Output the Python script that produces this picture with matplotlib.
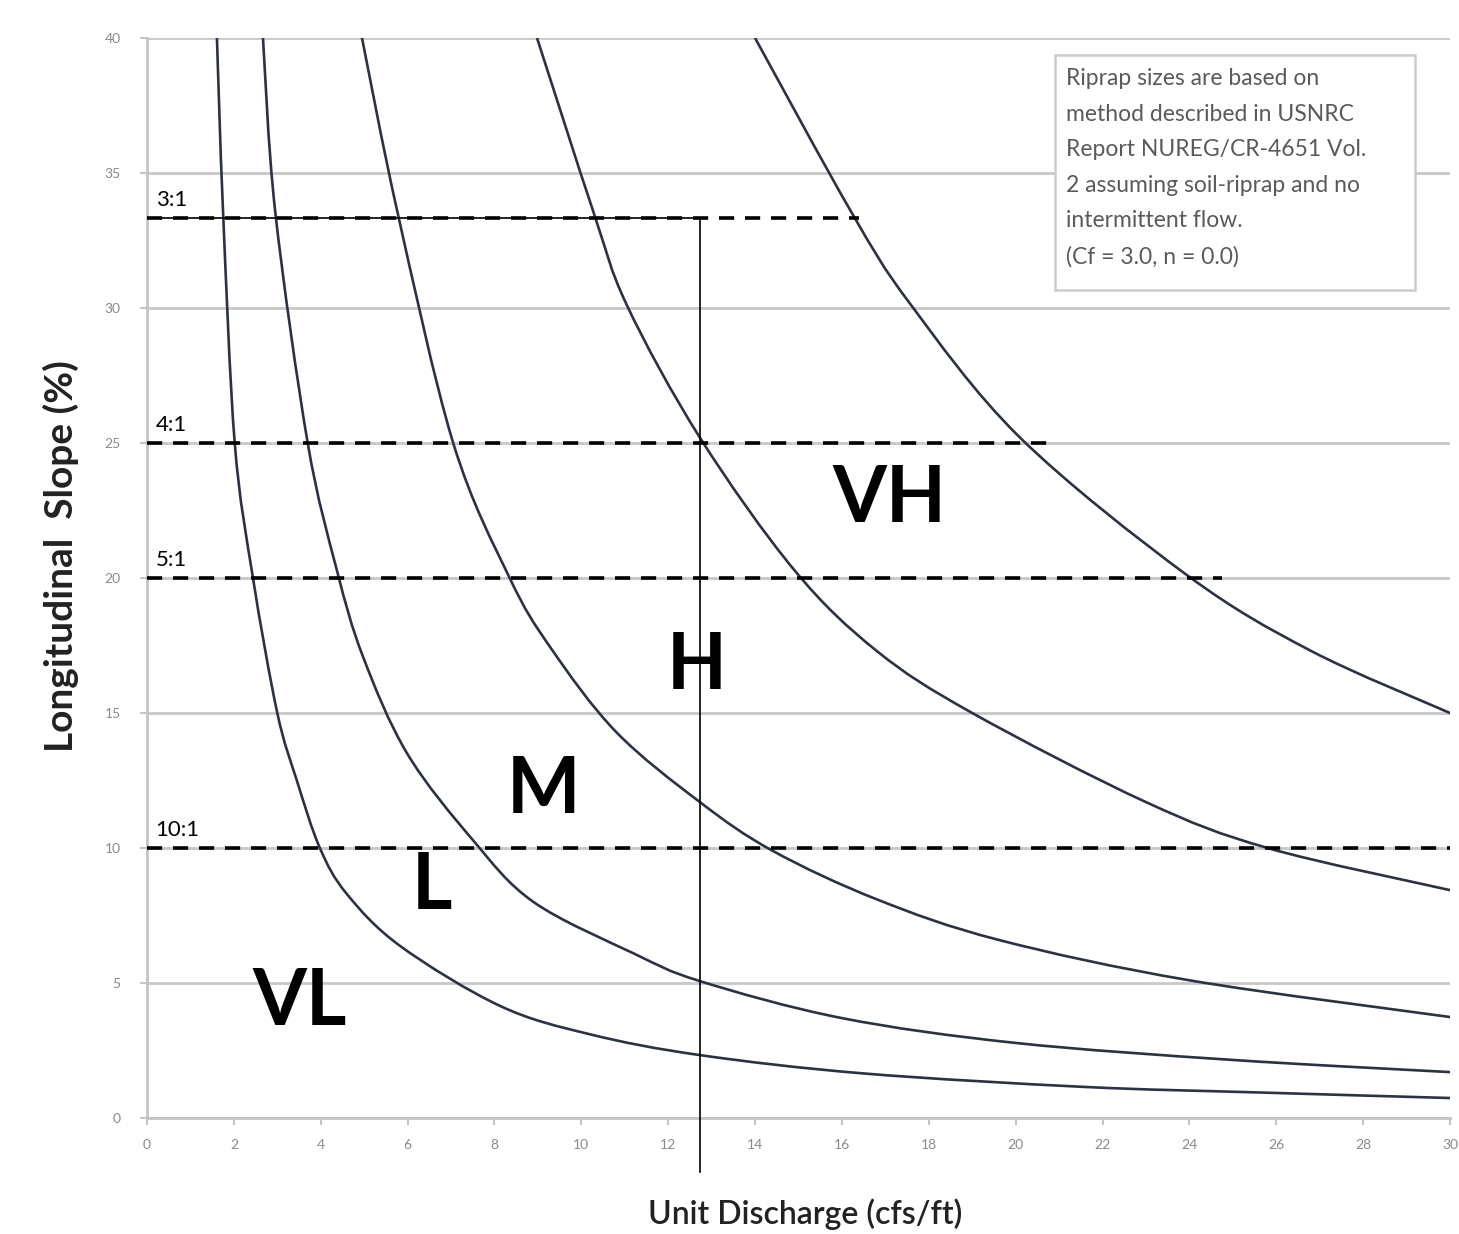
import matplotlib
matplotlib.use("Agg")
import matplotlib.pyplot as plt
from matplotlib.path import Path
from matplotlib.patches import PathPatch, Rectangle

# --------------------------
# Data (unit discharge q in cfs/ft, slope S in %)
# --------------------------
c1_q = [1.61, 1.75, 2.02, 2.44, 3.00, 3.45, 3.98, 4.6, 5.83, 8.13, 10.2, 12.73, 16.5, 21.6, 25.5, 30.0]
c1_s = [40.0, 33.6, 25.0, 20.0, 15.0, 12.5, 10.0, 8.3, 6.37, 4.15, 3.1, 2.33, 1.65, 1.15, 0.95, 0.74]

c2_q = [2.67, 2.95, 3.70, 4.37, 4.97, 5.99, 7.50, 8.90, 11.2, 12.73, 16.0, 20.0, 25.0, 30.0]
c2_s = [40.0, 33.6, 25.0, 20.3, 17.1, 13.5, 10.3, 8.0, 6.1, 5.07, 3.7, 2.78, 2.15, 1.70]

c3_q = [4.95, 5.76, 7.05, 8.35, 9.30, 10.8, 12.73, 14.4, 16.8, 19.6, 24.0, 30.0]
c3_s = [40.0, 33.6, 25.0, 20.0, 17.4, 14.3, 11.7, 9.9, 8.1, 6.6, 5.1, 3.74]

c4_q = [8.98, 10.27, 11.05, 12.73, 14.9, 16.8, 19.0, 23.0, 25.8, 30.0]
c4_s = [40.0, 33.6, 30.1, 25.2, 20.3, 17.3, 15.0, 11.7, 10.0, 8.44]

c5_q = [14.0, 16.2, 17.55, 20.1, 23.95, 26.8, 30.0]
c5_s = [40.0, 33.6, 30.2, 25.2, 20.1, 17.3, 15.0]

curves = [(c1_q, c1_s), (c2_q, c2_s), (c3_q, c3_s), (c4_q, c4_s), (c5_q, c5_s)]

# side-slope reference lines: label, slope (%), end of dashed line (q)
ratio_labels = ["3:1", "4:1", "5:1", "10:1"]
ratio_slopes = [33.33, 25.0, 20.0, 10.0]
ratio_ends = [16.4, 20.9, 24.75, 30.0]

design_q = 12.73  # vertical design line

zone_labels = ["VL", "L", "M", "H", "VH"]
zone_q = [3.52, 6.56, 9.12, 12.66, 17.1]
zone_s = [4.26, 8.56, 12.1, 16.7, 22.9]

note = ("Riprap sizes are based on\n"
        "method described in USNRC\n"
        "Report NUREG/CR-4651 Vol.\n"
        "2 assuming soil-riprap and no\n"
        "intermittent flow.\n"
        "(Cf = 3.0, n = 0.0)")


def smooth_path(xs, ys):
    # Excel-style smoothed line: Catmull-Rom through the points as cubic Beziers
    pts = list(zip(xs, ys))
    n = len(pts)
    verts = [pts[0]]
    codes = [Path.MOVETO]
    for i in range(n - 1):
        p0 = pts[i - 1] if i > 0 else pts[i]
        p1 = pts[i]
        p2 = pts[i + 1]
        p3 = pts[i + 2] if i + 2 < n else pts[i + 1]
        c1 = (p1[0] + (p2[0] - p0[0]) / 6, p1[1] + (p2[1] - p0[1]) / 6)
        c2 = (p2[0] - (p3[0] - p1[0]) / 6, p2[1] - (p3[1] - p1[1]) / 6)
        verts += [c1, c2, p2]
        codes += [Path.CURVE4] * 3
    return Path(verts, codes)


# --------------------------
# Plot
# --------------------------
plt.rcParams['font.family'] = ['Lato', 'DejaVu Sans']

fig = plt.figure(figsize=(14.59, 12.34), dpi=100)
ax = fig.add_axes([147 / 1459, 1 - 1118 / 1234, (1450 - 147) / 1459, (1118 - 38) / 1234])

for q, s in curves:
    ax.add_patch(PathPatch(smooth_path(q, s), fc="none", ec="#2b3242", lw=1.9,
                           capstyle="round", zorder=3))

for lab, s, qe in zip(ratio_labels, ratio_slopes, ratio_ends):
    ax.plot([0, qe], [s, s], color="black", lw=2.6, dashes=(4.2, 3.0), zorder=4)
    ax.text(0.2, s + 0.3, lab, fontsize=16, color="black", ha="left", va="bottom", zorder=5)

# solid 3:1 line up to the design discharge and vertical design line
ax.plot([0, design_q], [ratio_slopes[0], ratio_slopes[0]], color="black", lw=1.2, zorder=4)
ax.plot([design_q, design_q], [ratio_slopes[0], -2.0], color="black", lw=1.2, zorder=4, clip_on=False)

for lab, q, s in zip(zone_labels, zone_q, zone_s):
    ax.text(q, s, lab, fontsize=56, fontweight="bold", color="black",
            ha="center", va="center", zorder=5)

# note box
ax.add_patch(Rectangle((0.697, 0.767), 0.276, 0.217, transform=ax.transAxes,
                       fc="white", ec="#cccccc", lw=1.8, zorder=6))
ax.text(0.705, 0.972, note, transform=ax.transAxes, fontsize=16.5, color="#5a5a5a",
        ha="left", va="top", linespacing=1.85, zorder=7)

ax.set_xlim(0, 30)
ax.set_ylim(0, 40)
ax.set_xticks(range(0, 31, 2))
ax.set_yticks(range(0, 41, 5))
ax.grid(axis="y", color="#c8c8c8", lw=2)
ax.set_axisbelow(True)
for side in ["top", "right"]:
    ax.spines[side].set_visible(False)
for side in ["left", "bottom"]:
    ax.spines[side].set_color("#c4c4c4")
    ax.spines[side].set_linewidth(2)
ax.tick_params(axis="both", colors="#c4c4c4", labelcolor="#8a8a8a", labelsize=10, length=5, width=1.5)
ax.tick_params(axis="y", pad=14)
ax.tick_params(axis="x", pad=10)

ax.set_xlabel("Unit Discharge (cfs/ft)", fontsize=23, fontweight="semibold", color="#222222")
ax.xaxis.set_label_coords(0.505, -0.074)
ax.set_ylabel("Longitudinal  Slope (%)", fontsize=28, fontweight="bold", color="#222222")
ax.yaxis.set_label_coords(-0.052, 0.52)

fig.savefig("out.png", dpi=100, facecolor="white")
